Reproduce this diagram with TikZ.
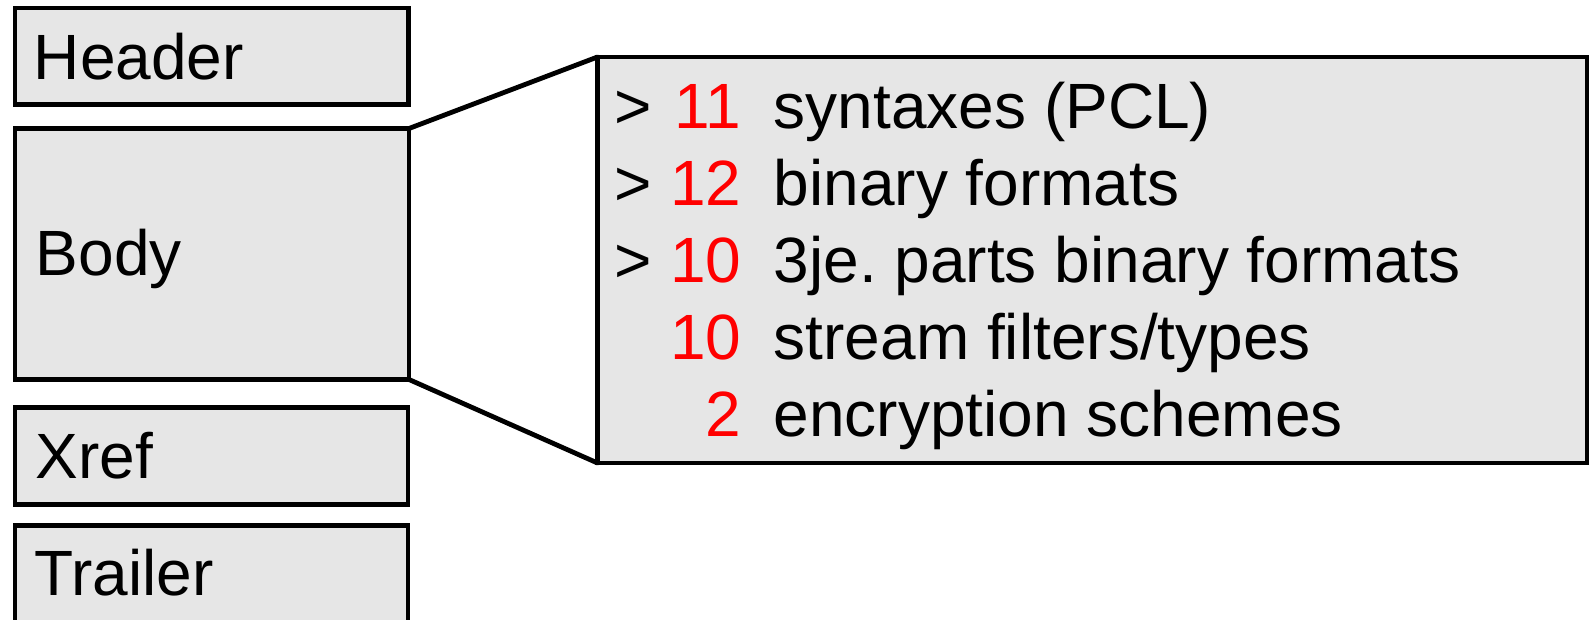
\documentclass[tikz,border=0pt]{standalone}
\usepackage{fontspec}
\setmainfont{Liberation Sans}
\definecolor{boxgray}{RGB}{230,230,230}
\definecolor{numred}{RGB}{255,0,0}
\frenchspacing
\begin{document}
\begin{tikzpicture}[x=0.25pt,y=-0.25pt,
  part/.style={draw=black,line width=1.2pt,fill=boxgray,rectangle,outer sep=0pt,inner sep=0pt},
  lbl/.style={anchor=base west,inner sep=0pt,font=\fontsize{16}{19}\selectfont},
  numlbl/.style={anchor=base east,inner sep=0pt,text=numred,font=\fontsize{16}{19}\selectfont},
  link/.style={line width=1.2pt,line join=round,line cap=round}]
\clip (0,0) rectangle (1589,620);
\fill[white] (0,0) rectangle (1589,620);
% left boxes
\node[part,minimum width=98.375pt,minimum height=24.125pt] (header) at (211.75,56.25) {};
\node[part,minimum width=98.5pt,minimum height=62.75pt] (body) at (212,254) {};
\node[part,minimum width=98.25pt,minimum height=24.25pt] (xref) at (211.5,456) {};
\node[part,minimum width=98.25pt,minimum height=28.625pt] (trailer) at (211.5,582.75) {};
% detail box
\node[part,minimum width=247.375pt,minimum height=101.5pt] (detail) at (1092.25,260) {};
% connectors
\draw[link] (body.north east) -- (detail.north west);
\draw[link] (body.south east) -- (detail.south west);
% labels
\node[lbl] (lheader) at (33,80) {Header};
\node[lbl] (lbody) at (35,276) {Body};
\node[lbl] (lxref) at (35,479) {Xref};
\node[lbl] (ltrailer) at (34,596) {Trailer};
% detail rows
\node[lbl] (g1) at (614,129) {>};
\node[lbl] (g2) at (614,206) {>};
\node[lbl] (g3) at (614,283) {>};
\node[numlbl] (n1) at (742,129) {11};
\node[numlbl] (n2) at (742,206) {12};
\node[numlbl] (n3) at (742,283) {10};
\node[numlbl] (n4) at (742,360) {10};
\node[numlbl] (n5) at (742,437) {2};
\node[lbl] (t1) at (773,129) {syntaxes (PCL)};
\node[lbl] (t2) at (773,206) {binary formats};
\node[lbl] (t3) at (773,283) {3je.\ parts binary formats};
\node[lbl] (t4) at (773,360) {stream filters/types};
\node[lbl] (t5) at (773,437) {encryption schemes};
\end{tikzpicture}
\end{document}
